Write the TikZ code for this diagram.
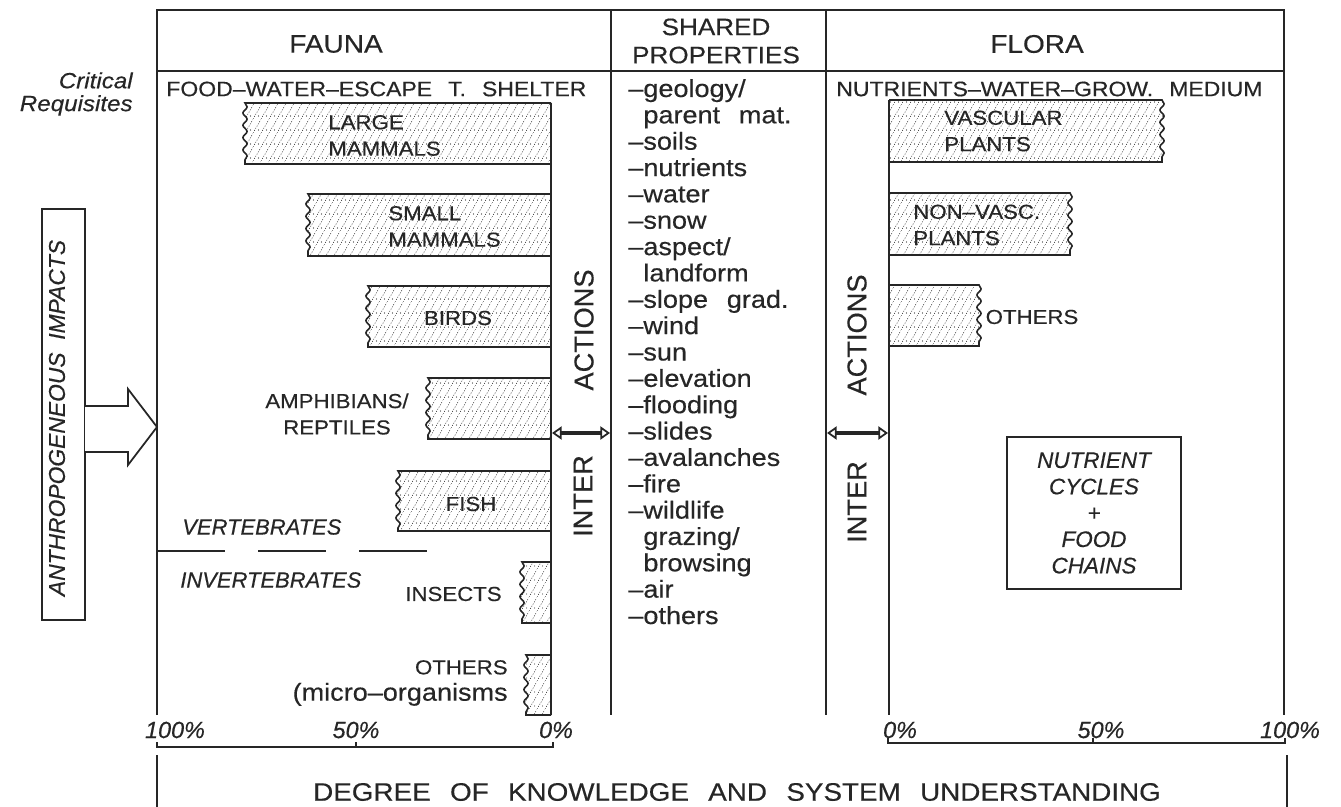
\documentclass[tikz,border=0pt]{standalone}
\usepackage{fontspec}
\setmainfont{Liberation Sans}[FakeStretch=1.1, WordSpace=2.5, FakeBold=0.4]
\newfontfamily\tallsans{Liberation Sans}[WordSpace=2, FakeBold=0.4]
\usetikzlibrary{arrows.meta, patterns.meta, decorations.pathmorphing}

\colorlet{ink}{black!85}

\tikzdeclarepattern{
  name=hatchdots,
  type=uncolored,
  bounding box={(0pt,0pt) and (4.5pt,8pt)},
  tile size={(4.5pt,8pt)},
  code={
    \draw[line width=0.3pt, dash pattern=on 0.6pt off 0.9pt] (0pt,0pt) -- (4.5pt,8pt);
    \fill (3.2pt,1.8pt) circle (0.35pt);
  }
}

\tikzset{
  frame/.style={draw=ink, line width=1pt},
  axisline/.style={draw=ink, line width=0.6pt},
  bar/.style={draw=ink, line width=0.9pt, pattern=hatchdots, pattern color=ink,
    decoration={snake, amplitude=1.2pt, segment length=7pt}},
  biarrow/.style={draw=ink, line width=2.2pt,
    arrows={Triangle[open, length=5.5pt, width=7.5pt, line width=1pt]-Triangle[open, length=5.5pt, width=7.5pt, line width=1pt]}},
  txt/.style={text=ink, inner sep=0pt},
  head/.style={txt, font=\fontsize{14.5}{16}\selectfont},
  req/.style={txt, font=\fontsize{11.9}{13}\selectfont},
  barlabel/.style={txt, font=\fontsize{11.5}{15}\selectfont},
  prop/.style={txt, anchor=base west, font=\fontsize{14}{15}\selectfont},
  itlabel/.style={txt, font=\tallsans\itshape\fontsize{12.5}{15}\selectfont},
  pct/.style={txt, font=\tallsans\itshape\fontsize{13.3}{15}\selectfont},
  vtext/.style={txt, rotate=90, font=\tallsans\fontsize{15.5}{17}\selectfont}
}

\begin{document}
\begin{tikzpicture}[x=0.02cm, y=-0.02cm]
  \useasboundingbox (0,0) rectangle (1341,807);

  % Hatched bars, torn edge towards 100%
  \foreach \xl/\yt/\yb in {245/103/164, 308/194/256, 368/286/347, 428/378/439,
                           398/471/531, 522/562/623, 526/655/715}
    \draw[bar] (551,\yt) -- (\xl,\yt) decorate {-- (\xl,\yb)} -- (551,\yb);
  \foreach \xr/\yt/\yb in {1162/100/162, 1070/193/255, 979/285/346}
    \draw[bar] (889,\yt) -- (\xr,\yt) decorate {-- (\xr,\yb)} -- (889,\yb);

  % Frame and columns
  \draw[frame] (157,715) -- (157,10) -- (1284,10) -- (1284,715);
  \draw[frame] (157,71) -- (1284,71);
  \draw[frame] (611,10) -- (611,715);
  \draw[frame] (826,10) -- (826,715);
  \draw[frame] (551,103) -- (551,715);
  \draw[frame] (889,100) -- (889,715);

  % Headings
  \node[head] (fauna) at (336,44) {FAUNA};
  \node[head, align=center, font=\fontsize{13.5}{16}\selectfont] (shared) at (716,41) {SHARED\\PROPERTIES};
  \node[head] (flora) at (1037,44) {FLORA};
  \node[txt, anchor=north east, align=right, font=\itshape\fontsize{12.5}{13}\selectfont]
    (crit) at (133,72) {Critical\\Requisites};
  \node[req, anchor=west] (faunareq) at (166,89) {FOOD--WATER--ESCAPE T. SHELTER};
  \node[req, anchor=west] (florareq) at (836,89) {NUTRIENTS--WATER--GROW. MEDIUM};

  % Fauna labels
  \node[barlabel, anchor=west, align=left] (lmam) at (328,135.5) {LARGE\\MAMMALS};
  \node[barlabel, anchor=west, align=left] (smam) at (388,226.5) {SMALL\\MAMMALS};
  \node[barlabel] (bird) at (458,318) {BIRDS};
  \node[barlabel, align=center] (amph) at (337,414) {AMPHIBIANS/\\REPTILES};
  \node[barlabel] (fish) at (471,504) {FISH};
  \node[barlabel, anchor=east] (insect) at (502,594) {INSECTS};
  \node[barlabel, anchor=east, align=right] (othfa) at (508,683)
    {OTHERS\\\fontsize{14}{15}\selectfont(micro--organisms};
  \node[itlabel, anchor=west] (vert) at (182,527) {VERTEBRATES};
  \node[itlabel, anchor=west] (invert) at (180,580) {INVERTEBRATES};
  \draw[ink, line width=0.8pt, dash pattern=on 38.5pt off 19pt] (157,551) -- (427,551);

  % Flora labels
  \node[barlabel, anchor=west, align=left] (vasc) at (944,131) {VASCULAR\\PLANTS};
  \node[barlabel, anchor=west, align=left] (nonvasc) at (913,225) {NON--VASC.\\PLANTS};
  \node[barlabel] (othfl) at (1032,317) {OTHERS};
  \node[draw=ink, line width=0.9pt, minimum width=3.48cm, minimum height=3.04cm, align=center,
    text=ink, font=\tallsans\itshape\fontsize{12.8}{15}\selectfont]
    (cycles) at (1094,513) {NUTRIENT\\CYCLES\\+\\FOOD\\CHAINS};

  % Shared properties
  \foreach \entry [count=\i from 0] in {--geology/, \hphantom{--}parent mat., --soils, --nutrients,
      --water, --snow, --aspect/, \hphantom{--}landform, --slope grad., --wind, --sun,
      --elevation, --flooding, --slides, --avalanches, --fire, --wildlife,
      \hphantom{--}grazing/, \hphantom{--}browsing, --air, --others}
    \node[prop] (prop\i) at (628,{97+26.35*\i}) {\entry};

  % Interactions
  \node[vtext] (actfa) at (584,330) {ACTIONS};
  \node[vtext] (intfa) at (583,496) {INTER};
  \node[vtext] (actfl) at (857,335) {ACTIONS};
  \node[vtext] (intfl) at (857,502) {INTER};
  \coordinate (fa1) at (552,433);
  \coordinate (fa2) at (610,433);
  \coordinate (fl1) at (827,433);
  \coordinate (fl2) at (888,433);
  \draw[biarrow] (fa1) -- (fa2);
  \draw[biarrow] (fl1) -- (fl2);

  % Impacts
  \node[draw=ink, line width=1pt, minimum width=8.22cm, minimum height=0.86cm, rotate=90,
    inner sep=0pt] (anthro) at (63.5,414.5) {};
  \node[itlabel, rotate=90, font=\tallsans\itshape\fontsize{13}{15}\selectfont]
    (anthrotxt) at (57,418) {ANTHROPOGENEOUS IMPACTS};
  \draw[frame, fill=white] (85,406) -- (128,406) -- (128,389) -- (157,427)
    -- (128,465) -- (128,452) -- (85,452);

  % Knowledge scale
  \node[pct] (p100l) at (175,730) {100\%};
  \node[pct] (p50l) at (356,730) {50\%};
  \node[pct] (p0l) at (556,730) {0\%};
  \node[pct] (p0r) at (900,730) {0\%};
  \node[pct] (p50r) at (1101,730) {50\%};
  \node[pct] (p100r) at (1290,730) {100\%};
  \draw[axisline] (157,742) -- (157,747) -- (553,747) -- (553,742);
  \draw[axisline] (356,747) -- (356,742);
  \draw[axisline] (888,738) -- (888,743) -- (1285,743) -- (1285,738);
  \draw[axisline] (1093,743) -- (1093,738);
  \draw[frame] (157,755) -- (157,807);
  \draw[frame] (1287,755) -- (1287,807);
  \node[txt, font=\fontsize{14.4}{16}\selectfont] (degree) at (737,792)
    {DEGREE OF KNOWLEDGE AND SYSTEM UNDERSTANDING};
\end{tikzpicture}
\end{document}
